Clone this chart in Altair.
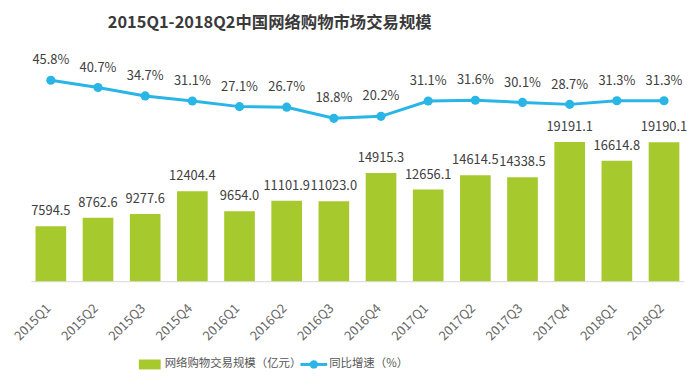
import altair as alt
import pandas as pd

quarters = ["2015Q1", "2015Q2", "2015Q3", "2015Q4", "2016Q1", "2016Q2", "2016Q3",
            "2016Q4", "2017Q1", "2017Q2", "2017Q3", "2017Q4", "2018Q1", "2018Q2"]
trade_scale = [7594.5, 8762.6, 9277.6, 12404.4, 9654.0, 11101.9, 11023.0,
               14915.3, 12656.1, 14614.5, 14338.5, 19191.1, 16614.8, 19190.1]
growth_rate = [45.8, 40.7, 34.7, 31.1, 27.1, 26.7, 18.8,
               20.2, 31.1, 31.6, 30.1, 28.7, 31.3, 31.3]

title_text = "2015Q1-2018Q2中国网络购物市场交易规模"
legend_bar = "网络购物交易规模（亿元）"
legend_line = "同比增速（%）"

df = pd.DataFrame({
    "quarter": quarters,
    "scale": trade_scale,
    "growth": growth_rate,
    "scale_label": [f"{v:.1f}" for v in trade_scale],
    "growth_label": [f"{g:.1f}%" for g in growth_rate],
})

FONT = "Noto Sans CJK SC"
BAR_COLOR = "#a6c92e"
LINE_COLOR = "#29b5e6"

x_enc = alt.X(
    "quarter:N", sort=quarters,
    scale=alt.Scale(paddingInner=0.35, paddingOuter=0.1),
    axis=alt.Axis(title=None, labelAngle=-45, labelAlign="right", labelBaseline="middle",
                  labelPadding=25, labelOffset=-2, ticks=False, grid=False,
                  domainColor="#d9d9d9", labelColor="#666666", labelFont=FONT,
                  labelFontSize=13),
)
y_bar = alt.Y("scale:Q", scale=alt.Scale(domain=[0, 33102], nice=False, zero=True), axis=None)
y_line = alt.Y("growth:Q", scale=alt.Scale(domain=[-96.9, 73.5], nice=False, zero=False), axis=None)

base = alt.Chart(df)

bars = base.mark_bar(color=BAR_COLOR).encode(x=x_enc, y=y_bar)
bar_text = base.mark_text(dy=-11, baseline="alphabetic", font=FONT, fontSize=13,
                          color="#404040").encode(
    x=alt.X("quarter:N", sort=quarters), y=y_bar, text="scale_label:N")

line = base.mark_line(color=LINE_COLOR, strokeWidth=3).encode(
    x=alt.X("quarter:N", sort=quarters), y=y_line)
points = base.mark_circle(color=LINE_COLOR, opacity=1, size=85).encode(
    x=alt.X("quarter:N", sort=quarters), y=y_line)
line_text = base.mark_text(dy=-16, baseline="alphabetic", font=FONT, fontSize=13,
                           color="#404040").encode(
    x=alt.X("quarter:N", sort=quarters), y=y_line, text="growth_label:N")

one = alt.Chart(pd.DataFrame({"a": [0]}))
title = one.mark_text(font=FONT, fontSize=16.5, fontWeight="bold", color="#3a3a3a",
                      baseline="middle", align="center").encode(
    x=alt.value(241), y=alt.value(-18), text=alt.value(title_text))
leg_rect = one.mark_rect(color=BAR_COLOR).encode(
    x=alt.value(109), x2=alt.value(131), y=alt.value(321), y2=alt.value(331))
leg_bar_text = one.mark_text(font=FONT, fontSize=11.5, color="#555555", align="left",
                             baseline="middle").encode(
    x=alt.value(135), y=alt.value(326), text=alt.value(legend_bar))
leg_rule = one.mark_rule(color=LINE_COLOR, strokeWidth=3).encode(
    x=alt.value(272), x2=alt.value(299), y=alt.value(326))
leg_dot = one.mark_circle(color=LINE_COLOR, opacity=1, size=70).encode(
    x=alt.value(285.5), y=alt.value(326))
leg_line_text = one.mark_text(font=FONT, fontSize=11.5, color="#555555", align="left",
                              baseline="middle").encode(
    x=alt.value(301), y=alt.value(326), text=alt.value(legend_line))

chart = alt.layer(
    bars, bar_text, line, points, line_text,
    title, leg_rect, leg_bar_text, leg_rule, leg_dot, leg_line_text,
).resolve_scale(y="independent").properties(
    width=659, height=242,
    padding={"left": 23, "top": 32, "right": 8, "bottom": 90},
    autosize=alt.AutoSizeParams(type="none"),
    background="white",
).configure_view(stroke=None)

chart.save("out.html", embed_options={"renderer": "svg", "actions": False})
